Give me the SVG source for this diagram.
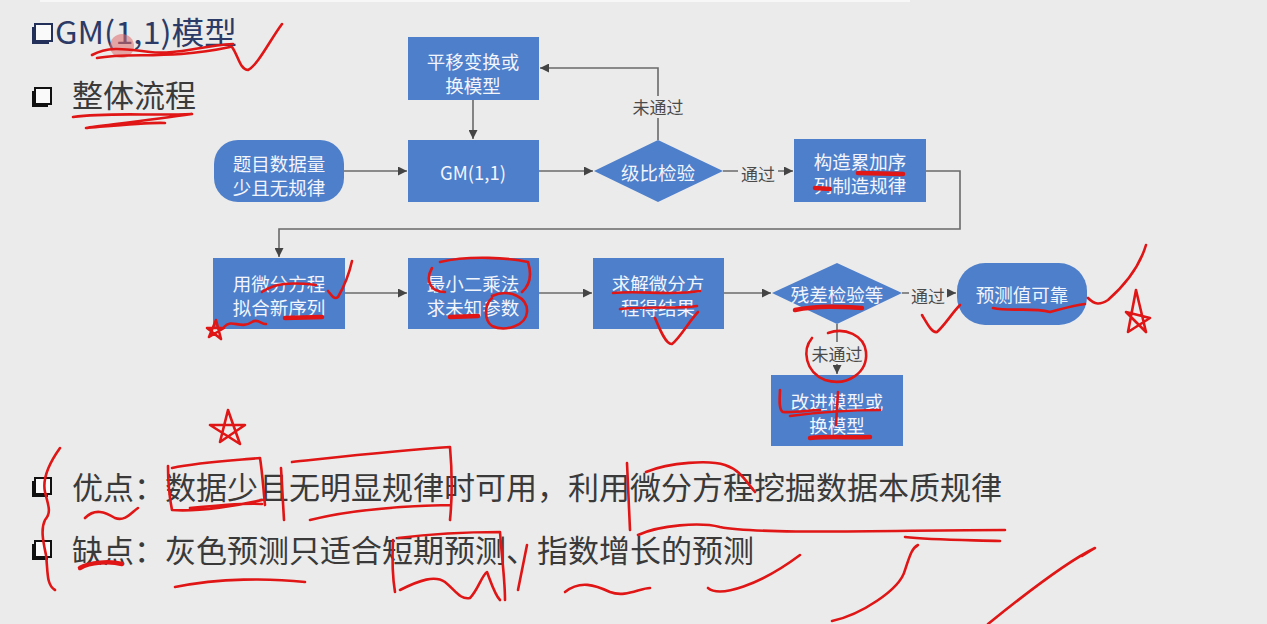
<svg xmlns="http://www.w3.org/2000/svg" width="1267" height="624" viewBox="0 0 1267 624">
<style>
.bg{fill:#ebebeb}
.box{fill:#4e7fcb}
.bt{font-family:"Noto Sans CJK SC","Liberation Sans",sans-serif;font-size:18.5px;fill:#f2f5fb;text-anchor:middle;dominant-baseline:central}
.ln{fill:none;stroke:#6a6a6a;stroke-width:1.6}
.lbl{font-family:"Noto Sans CJK SC","Liberation Sans",sans-serif;font-size:17px;fill:#4a4a4a;text-anchor:middle;dominant-baseline:central}
.big{font-family:"Noto Sans CJK SC","Liberation Sans",sans-serif;font-size:31px;fill:#3a3a3a}
.red{fill:none;stroke:#e01515;stroke-width:2.6;stroke-linecap:round;stroke-linejoin:round}
.redw{fill:none;stroke:#e01515;stroke-width:4.5;stroke-linecap:round}
</style>
<defs>
<marker id="ar" viewBox="0 0 10 10" refX="10" refY="5" markerWidth="10" markerHeight="9" markerUnits="userSpaceOnUse" orient="auto">
<path d="M0,0 L10,5 L0,10 Z" fill="#444"/>
</marker>
<g id="cb">
<rect x="0" y="3" width="16" height="16" fill="#111"/>
<rect x="3" y="0" width="16" height="16" fill="#fafafa" stroke="#111" stroke-width="2"/>
</g>
</defs>
<rect class="bg" x="0" y="0" width="1267" height="624"/>
<rect x="40" y="0" width="870" height="2" fill="#f7f7f7"/>

<g id="title">
<g transform="translate(32,24)"><rect x="0" y="3" width="17" height="17" fill="#23315a"/><rect x="3" y="0" width="17" height="17" fill="#fafafa" stroke="#23315a" stroke-width="2"/></g>
<text x="55" y="44" font-family="'Noto Sans CJK SC','Liberation Sans',sans-serif" font-size="31" fill="#2b3a66" textLength="182" lengthAdjust="spacingAndGlyphs">GM(1,1)模型</text>
</g>
<g id="subtitle">
<use href="#cb" x="32" y="88"/>
<text x="72" y="107" class="big" font-size="30">整体流程</text>
</g>

<g id="connectors">
<path class="ln" d="M344,171 H407" marker-end="url(#ar)"/>
<path class="ln" d="M473,100 V139" marker-end="url(#ar)"/>
<path class="ln" d="M539,171 H593" marker-end="url(#ar)"/>
<path class="ln" d="M658,140 V68 H540" marker-end="url(#ar)"/>
<path class="ln" d="M723,171 H793" marker-end="url(#ar)"/>
<path class="ln" d="M926,171 H960 V229 H279 V257" marker-end="url(#ar)"/>
<path class="ln" d="M345,293 H407" marker-end="url(#ar)"/>
<path class="ln" d="M539,293 H592" marker-end="url(#ar)"/>
<path class="ln" d="M724,293 H771" marker-end="url(#ar)"/>
<path class="ln" d="M902,293 H956" marker-end="url(#ar)"/>
<path class="ln" d="M837,324 V374" marker-end="url(#ar)"/>
<rect x="628" y="96" width="60" height="22" class="bg"/>
<text class="lbl" x="658" y="106">未通过</text>
<rect x="738" y="162" width="40" height="20" class="bg"/>
<text class="lbl" x="758" y="173">通过</text>
<rect x="909" y="284" width="38" height="20" class="bg"/>
<text class="lbl" x="928" y="295">通过</text>
<rect x="807" y="342" width="60" height="22" class="bg"/>
<text class="lbl" x="837" y="353">未通过</text>
</g>

<g id="n-start"><rect class="box" x="214" y="140" width="130" height="62" rx="24"/><text class="bt" x="279" y="163">题目数据量</text><text class="bt" x="279" y="187">少且无规律</text></g>
<g id="n-shift"><rect class="box" x="408" y="37" width="131" height="63"/><text class="bt" x="473" y="61">平移变换或</text><text class="bt" x="473" y="85">换模型</text></g>
<g id="n-gm"><rect class="box" x="408" y="140" width="131" height="62"/><text class="bt" x="473" y="172">GM(1,1)</text></g>
<g id="n-ratio"><polygon class="box" points="594,171 658,140 723,171 658,202"/><text class="bt" x="658" y="172">级比检验</text></g>
<g id="n-accum"><rect class="box" x="794" y="139" width="132" height="63"/><text class="bt" x="860" y="161">构造累加序</text><text class="bt" x="860" y="185">列制造规律</text></g>
<g id="n-fit"><rect class="box" x="213" y="258" width="132" height="71"/><text class="bt" x="279" y="283">用微分方程</text><text class="bt" x="279" y="307">拟合新序列</text></g>
<g id="n-ls"><rect class="box" x="408" y="258" width="131" height="71"/><text class="bt" x="473" y="283">最小二乘法</text><text class="bt" x="473" y="307">求未知参数</text></g>
<g id="n-solve"><rect class="box" x="593" y="258" width="131" height="71"/><text class="bt" x="658" y="283">求解微分方</text><text class="bt" x="658" y="307">程得结果</text></g>
<g id="n-resid"><polygon class="box" points="772,293 837,263 902,293 837,324"/><text class="bt" x="837" y="294">残差检验等</text></g>
<g id="n-ok"><rect class="box" x="957" y="263" width="130" height="62" rx="28"/><text class="bt" x="1022" y="294">预测值可靠</text></g>
<g id="n-improve"><rect class="box" x="771" y="375" width="132" height="71"/><text class="bt" x="837" y="401">改进模型或</text><text class="bt" x="837" y="425">换模型</text></g>

<g id="pros">
<use href="#cb" x="32" y="478"/>
<text x="72" y="499" class="big">优点：数据少且无明显规律时可用，利用微分方程挖掘数据本质规律</text>
</g>
<g id="cons">
<use href="#cb" x="32" y="541"/>
<text x="72" y="562" class="big">缺点：灰色预测只适合短期预测、指数增长的预测</text>
</g>

<g id="annotations">
<circle cx="122" cy="46" r="12" fill="#e06a6a" fill-opacity="0.55"/>
<path class="red" d="M92,55 C110,45 130,50 150,52 C175,55 200,46 233,44 M97,58 C130,52 170,60 230,47"/>
<path class="red" d="M232,47 C238,55 240,70 248,70 C258,65 270,40 282,24"/>
<path class="red" d="M73,117 C110,112 150,116 192,114 C150,120 100,126 86,128 C110,126 150,122 165,123"/>
<path class="redw" d="M858,173 L903,174 M815,188 L830,189"/>
<path class="red" d="M328,291 C332,296 334,300 338,297 C345,285 350,270 352,261"/>
<path class="red" d="M262,292 C275,283 290,282 316,285"/>
<path class="redw" d="M285,318 L322,317"/>
<path class="red" d="M216,320 L209,337 L224,328 L207,328 L221,339 Z M224,327 C232,318 240,330 252,322 C258,318 262,325 266,324"/>
<path class="red" d="M432,268 C425,280 430,292 445,292 M440,262 C470,255 510,258 528,262 C532,275 530,285 522,292"/>
<path class="red" d="M492,296 C510,288 528,298 527,312 C526,326 505,332 492,326 C484,320 484,305 492,298"/>
<path class="redw" d="M450,317 L478,316"/>
<path class="red" d="M613,293 C640,290 670,296 700,291 M620,309 C650,306 680,309 697,306"/>
<path class="red" d="M655,318 C660,330 666,345 672,344 C680,338 690,320 698,312"/>
<path class="redw" d="M795,310 C820,305 845,307 862,308"/>
<path class="red" d="M922,315 C928,325 932,333 937,332 C945,325 952,313 960,305"/>
<path class="red" d="M993,308 C1010,312 1030,307 1050,312 C1065,308 1075,305 1085,304"/>
<path class="red" d="M1088,298 C1095,305 1100,305 1108,300 C1125,285 1140,265 1146,245"/>
<path class="red" d="M1136,290 L1128,332 L1150,318 L1126,312 L1146,332 Z"/>
<path class="red" d="M812,338 C802,350 805,372 825,380 C848,387 868,372 866,352 C864,335 845,327 828,333"/>
<path class="red" d="M780,390 C780,395 778,410 783,412 C795,413 810,410 820,410 M790,416 C820,412 850,410 880,410 M838,392 L836,425"/>
<path class="redw" d="M810,438 C830,436 850,438 870,437"/>
<path class="red" d="M60,448 C50,462 42,478 45,492 C48,505 52,512 45,520 C40,530 44,545 46,555 C48,570 46,585 55,590"/>
<path class="red" d="M85,518 C95,508 105,512 115,518 C125,522 132,512 138,508"/>
<path class="red" d="M228,410 L220,442 L245,425 L210,425 L240,444 Z"/>
<path class="red" d="M168,466 C168,480 170,500 172,510 C200,512 240,505 262,500 M172,468 C200,462 240,460 260,458 C262,470 263,485 265,505 M190,508 C220,505 245,503 262,504"/>
<path class="red" d="M281,468 L284,520"/>
<path class="red" d="M292,462 C330,458 400,450 450,447 C452,470 452,500 450,520 M310,520 C350,510 400,506 450,505"/>
<path class="red" d="M398,538 C430,534 470,532 500,532 C502,560 505,580 505,600 M393,540 C392,560 393,580 395,592"/>
<path class="red" d="M400,590 C420,580 435,575 445,582 C455,590 460,600 470,598 C478,590 482,575 487,572 C492,585 495,595 500,600"/>
<path class="red" d="M175,587 C220,578 270,578 305,582"/>
<path class="redw" d="M80,568 C90,562 110,561 122,564"/>
<path class="red" d="M527,545 L518,590"/>
<path class="red" d="M565,592 C580,580 595,585 610,592 C625,598 640,588 650,588"/>
<path class="red" d="M708,588 C720,598 760,585 800,555"/>
<path class="red" d="M627,463 L630,530 M646,472 C670,462 710,460 725,465 C740,470 745,480 755,492"/>
<path class="red" d="M638,535 C660,525 700,522 720,527 C760,535 900,530 1005,530 M905,537 C930,540 970,540 1000,541"/>
<path class="red" d="M832,621 C860,615 900,590 905,570 C910,555 912,548 918,545"/>
<path class="red" d="M988,624 C1030,590 1070,560 1095,548 L1082,556"/>
</g>
</svg>
